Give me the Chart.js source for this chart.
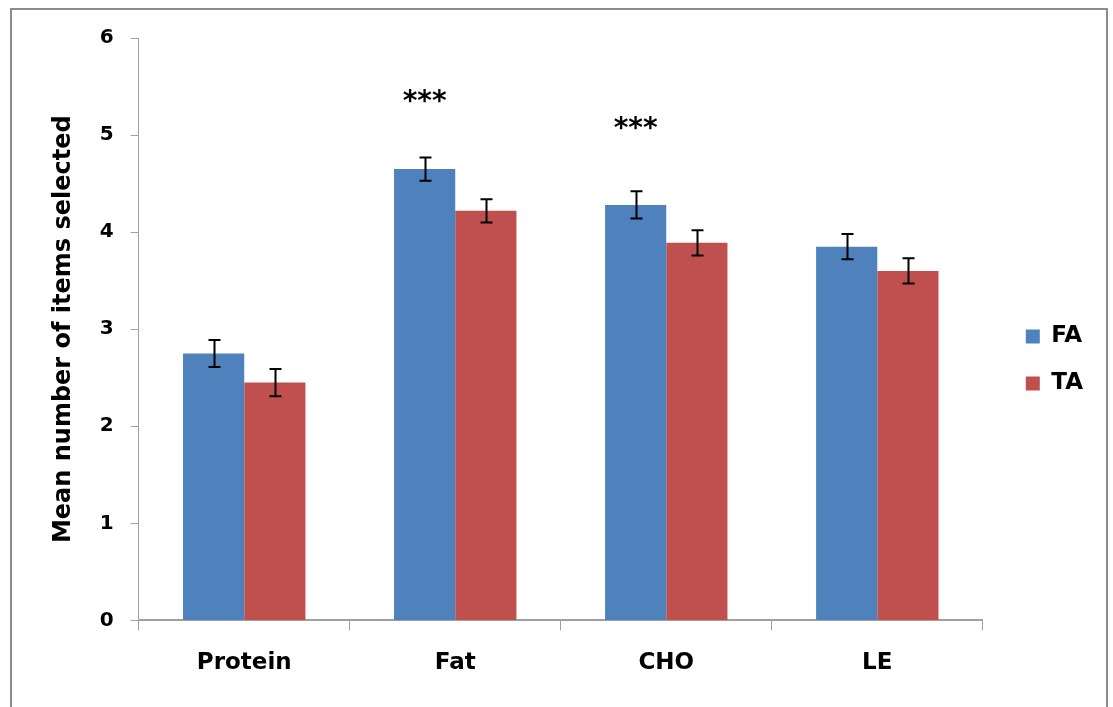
<!DOCTYPE html>
<html>
<head>
<meta charset="utf-8">
<script src="https://cdn.jsdelivr.net/npm/chart.js@4.4.0/dist/chart.umd.min.js"></script>
<style>
  html, body { margin: 0; padding: 0; background: #fff; overflow: hidden; }
  #frame { position: absolute; left: 10px; top: 8px; width: 1098px; height: 720px; border: 2px solid #8c8c8c; box-sizing: border-box; }
  #wrap { position: absolute; left: 0; top: 0; width: 1113px; height: 707px; }
</style>
</head>
<body>
<div id="frame"></div>
<div id="wrap"><canvas id="chart" width="1113" height="707"></canvas></div>
<script>
const categories = ['Protein', 'Fat', 'CHO', 'LE'];
const faValues = [2.75, 4.65, 4.28, 3.85];
const taValues = [2.45, 4.22, 3.89, 3.60];
const faErrors = [0.14, 0.12, 0.14, 0.13];
const taErrors = [0.14, 0.12, 0.13, 0.13];
// significance marks: [category index, y value, text]
const sigMarks = [[1, 5.33, '***'], [2, 5.05, '***']];

const FONT = '"DejaVu Sans", Verdana, sans-serif';

const errorBars = {
  id: 'errorBars',
  afterLayout(chart) {
    // nudge the legend block up a little
    chart.legend.top -= 14;
  },
  afterDatasetsDraw(chart) {
    const ctx = chart.ctx;
    const y = chart.scales.y;
    const errs = [faErrors, taErrors];
    ctx.save();
    ctx.strokeStyle = '#000';
    ctx.lineWidth = 2;
    chart.data.datasets.forEach((ds, di) => {
      chart.getDatasetMeta(di).data.forEach((bar, i) => {
        const v = ds.data[i];
        const top = y.getPixelForValue(v + errs[di][i]);
        const bot = y.getPixelForValue(v - errs[di][i]);
        const x = Math.round(bar.x) + 0.5;
        ctx.beginPath();
        ctx.moveTo(x, top); ctx.lineTo(x, bot);
        ctx.moveTo(x - 6, top); ctx.lineTo(x + 6, top);
        ctx.moveTo(x - 6, bot); ctx.lineTo(x + 6, bot);
        ctx.stroke();
      });
    });
    // asterisks
    ctx.fillStyle = '#000';
    ctx.font = 'bold 28px ' + FONT;
    ctx.textAlign = 'center';
    ctx.textBaseline = 'middle';
    sigMarks.forEach(([ci, val, txt]) => {
      const bar = chart.getDatasetMeta(0).data[ci];
      ctx.fillText(txt, bar.x, y.getPixelForValue(val));
    });
    ctx.restore();
  }
};

new Chart(document.getElementById('chart'), {
  type: 'bar',
  data: {
    labels: categories,
    datasets: [
      { label: 'FA', data: faValues, backgroundColor: '#4F81BD' },
      { label: 'TA', data: taValues, backgroundColor: '#C0504D' }
    ]
  },
  options: {
    responsive: false,
    animation: false,
    layout: { padding: { left: 44, top: 38, right: 20, bottom: 11 } },
    datasets: { bar: { categoryPercentage: 0.58, barPercentage: 1.0 } },
    plugins: {
      tooltip: { enabled: false },
      legend: {
        position: 'right',
        labels: {
          boxWidth: 14, boxHeight: 14, padding: 24,
          color: '#000',
          font: { family: FONT, size: 23, weight: 'bold' }
        }
      }
    },
    scales: {
      x: {
        grid: { drawOnChartArea: false, color: '#a0a0a0', tickLength: 10, offset: true },
        border: { color: '#a0a0a0', width: 2 },
        ticks: { color: '#000', padding: 19, font: { family: FONT, size: 23, weight: 'bold' } }
      },
      y: {
        min: 0, max: 6,
        grid: { drawOnChartArea: false, color: '#a0a0a0', tickLength: 8 },
        border: { color: '#a0a0a0', width: 1 },
        ticks: { stepSize: 1, color: '#000', padding: 17, font: { family: FONT, size: 20, weight: 'bold' } },
        title: { display: true, text: 'Mean number of items selected', color: '#000', padding: 5,
                 font: { family: FONT, size: 24, weight: 'bold' } }
      },
      yRight: {
        position: 'right',
        grid: { display: false },
        border: { display: false },
        ticks: { display: false },
        afterFit: s => { s.width = 19; }
      }
    }
  },
  plugins: [errorBars]
});
</script>
</body>
</html>
